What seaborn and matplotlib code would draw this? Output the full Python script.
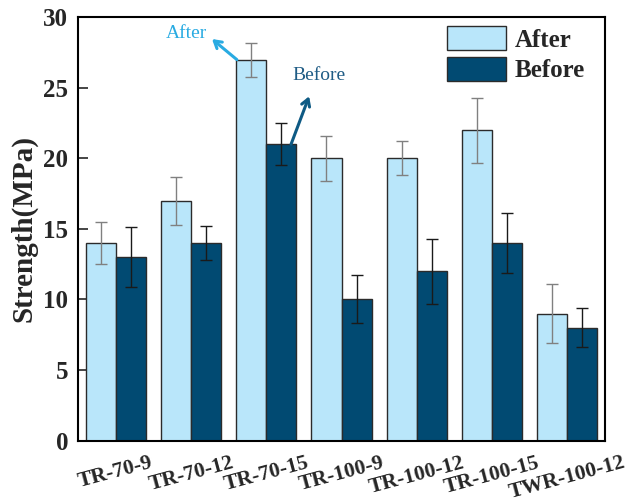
import numpy as np
import pandas as pd
import matplotlib
matplotlib.use("Agg")
import matplotlib.pyplot as plt
import seaborn as sns
from matplotlib.patches import Patch

categories = ["TR-70-9", "TR-70-12", "TR-70-15", "TR-100-9", "TR-100-12", "TR-100-15", "TWR-100-12"]
after_vals = [14, 17, 27, 20, 20, 22, 9]
before_vals = [13, 14, 21, 10, 12, 14, 8]
after_err = [1.5, 1.7, 1.2, 1.6, 1.2, 2.3, 2.1]
before_err = [2.1, 1.2, 1.5, 1.7, 2.3, 2.1, 1.4]
series = ["After", "Before"]
yticks = [0, 5, 10, 15, 20, 25, 30]

c_after = "#B9E6FA"
c_before = "#014A72"

sns.set_style("ticks")
plt.rcParams["font.family"] = ["Liberation Serif", "DejaVu Serif"]
plt.rcParams["font.weight"] = "bold"

df = pd.DataFrame({
    "Sample": categories * 2,
    "Series": ["After"] * len(categories) + ["Before"] * len(categories),
    "Strength": after_vals + before_vals,
})

fig = plt.figure(figsize=(6.41, 5.04), dpi=100)
ax = fig.add_axes([78 / 641, 1 - 440.5 / 504, (605 - 78) / 641, (440.5 - 17.3) / 504])

sns.barplot(data=df, x="Sample", y="Strength", hue="Series", hue_order=series,
            palette=[c_after, c_before], saturation=1, errorbar=None, width=0.8,
            edgecolor="#2b2b2b", linewidth=1.0, ax=ax, legend=False)

# error bars at bar centers taken from the drawn patches
n = len(categories)
bars = list(ax.patches)[:2 * n]
for i, p in enumerate(bars):
    if i < n:
        err, col, val = after_err[i], "#808080", after_vals[i]
    else:
        err, col, val = before_err[i - n], "#1a1a1a", before_vals[i - n]
    xc = p.get_x() + p.get_width() / 2
    ax.errorbar(xc, val, yerr=err, fmt="none", ecolor=col, elinewidth=1.0,
                capsize=4, capthick=1.0, zorder=5)

ax.set_xlim(-0.5, 6.5)
ax.set_ylim(0, 30)
ax.set_yticks(yticks)
ax.set_yticklabels([str(t) for t in yticks], fontsize=18, fontweight="bold")
ax.tick_params(axis="y", direction="in", length=7, width=1.2, pad=7)
ax.tick_params(axis="x", length=0, pad=9)
ax.set_xticks(range(n))
ax.set_xticklabels(categories, rotation=15, fontsize=15.5, fontweight="bold", ha="center")
ax.set_xlabel("")
ax.set_ylabel("Strength(MPa)", fontsize=21, fontweight="bold", labelpad=4)
for s in ax.spines.values():
    s.set_linewidth(1.5)
    s.set_color("black")

# annotations
ax.annotate("", xy=(1.28, 28.46), xytext=(1.61, 27.0),
            arrowprops=dict(arrowstyle="->,head_length=0.5,head_width=0.3",
                            color="#29ABE2", lw=2.2, shrinkA=0, shrinkB=0))
ax.text(0.94, 28.88, "After", color="#29ABE2", fontsize=14, fontweight="normal",
        ha="center", va="center")
ax.annotate("", xy=(2.57, 24.4), xytext=(2.33, 21.0),
            arrowprops=dict(arrowstyle="->,head_length=0.5,head_width=0.3",
                            color="#0E5A84", lw=2.2, shrinkA=0, shrinkB=0))
ax.text(2.70, 25.9, "Before", color="#1F5C85", fontsize=14, fontweight="normal",
        ha="center", va="center")

handles = [Patch(facecolor=c_after, edgecolor="#2b2b2b", label="After"),
           Patch(facecolor=c_before, edgecolor="#2b2b2b", label="Before")]
ax.legend(handles=handles, loc="upper left", frameon=False,
          prop={"weight": "bold", "size": 18}, handlelength=2.36, handleheight=1.12,
          handletextpad=0.36, labelspacing=0.2, borderpad=0, borderaxespad=0,
          bbox_to_anchor=((447 - 78) / 527, 1 - (26 - 17.3) / 423.2))

fig.savefig("out.png", dpi=100)
